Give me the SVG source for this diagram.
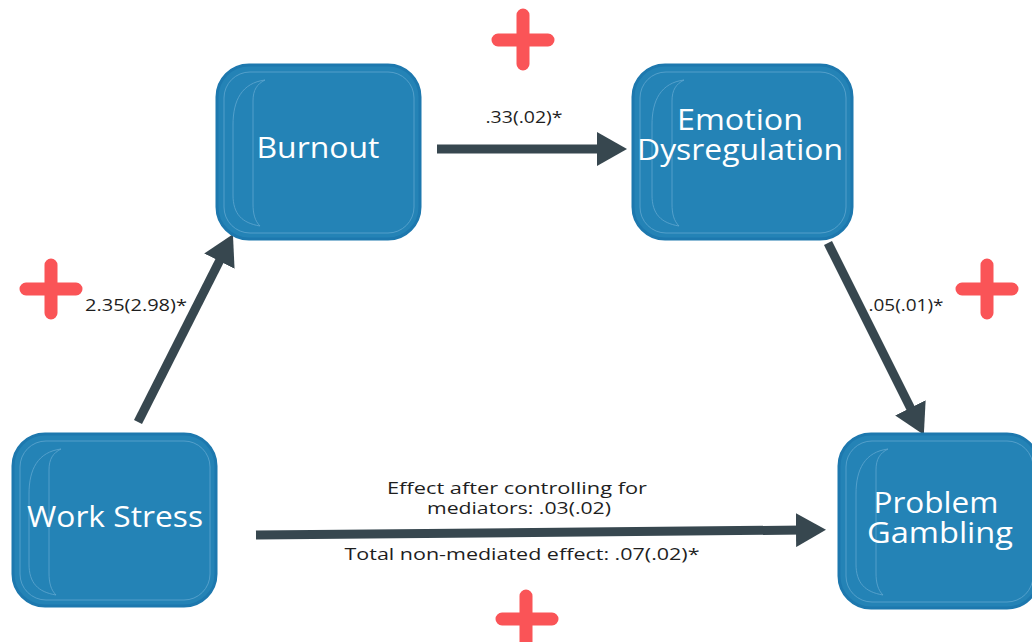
<svg xmlns="http://www.w3.org/2000/svg" width="1032" height="642" viewBox="0 0 1032 642">
<style>
.box{fill:#2483B6;stroke:#1D78AE;stroke-width:3}
.inner{fill:none;stroke:#5FA6D0;stroke-width:1;opacity:0.8}
.nl{font-family:"Open Sans","Liberation Sans",sans-serif;font-size:29px;fill:#FFFFFF;text-anchor:middle}
.el{font-family:"Open Sans","Liberation Sans",sans-serif;font-size:17px;fill:#1E1E1E;text-anchor:middle}
.conn{stroke:#37474F;stroke-width:9;fill:none;marker-end:url(#ah)}
.plus{stroke:#FA5457;stroke-width:13;stroke-linecap:round}
</style>
<defs>
<marker id="ah" markerUnits="userSpaceOnUse" markerWidth="30" markerHeight="34" viewBox="0 0 30 34" refX="8" refY="17" orient="auto">
<path d="M0,0 L30,17 L0,34 Z" fill="#37474F"/>
</marker>
</defs>
<rect width="1032" height="642" fill="#FFFFFF"/>
<g id="plus-signs">
<path class="plus" d="M498,40 H548 M523,15 V64"/>
<path class="plus" d="M26,289 H76 M51,265 V313"/>
<path class="plus" d="M962,289 H1012 M987,265 V313"/>
<path class="plus" d="M502,619 H552 M526,596 V648"/>
</g>
<g id="connectors">
<line class="conn" x1="138" y1="422" x2="223" y2="254"/>
<line class="conn" x1="437" y1="149" x2="605" y2="149"/>
<line class="conn" x1="828" y1="243" x2="914" y2="415"/>
<line class="conn" x1="256" y1="535" x2="804" y2="530"/>
<text class="el" x="524" y="123" textLength="77" lengthAdjust="spacingAndGlyphs">.33(.02)*</text>
<text class="el" x="136" y="311" textLength="102" lengthAdjust="spacingAndGlyphs">2.35(2.98)*</text>
<text class="el" x="906" y="311" textLength="75" lengthAdjust="spacingAndGlyphs">.05(.01)*</text>
<text class="el" x="517" y="494" textLength="260" lengthAdjust="spacingAndGlyphs">Effect after controlling for</text>
<text class="el" x="519" y="514" textLength="184" lengthAdjust="spacingAndGlyphs">mediators: .03(.02)</text>
<text class="el" x="522" y="560" textLength="355" lengthAdjust="spacingAndGlyphs">Total non-mediated effect: .07(.02)*</text>
</g>
<g id="node-burnout">
<rect class="box" x="217" y="65" width="203" height="174" rx="32"/>
<rect class="inner" x="224" y="72" width="190" height="161" rx="26"/>
<path class="inner" d="M265,80 C242,83 233,100 233,125 L233,195 C233,214 242,223 260,226 C255,221 253,214 253,204 L253,101 C253,90 257,84 265,80 Z"/>
<text class="nl" x="318" y="158" textLength="123" lengthAdjust="spacingAndGlyphs">Burnout</text>
</g>
<g id="node-emotion">
<rect class="box" x="633" y="65" width="219" height="174" rx="32"/>
<rect class="inner" x="640" y="72" width="206" height="161" rx="26"/>
<path class="inner" d="M684,80 C661,83 652,100 652,125 L652,195 C652,214 661,223 679,226 C674,221 672,214 672,204 L672,101 C672,90 676,84 684,80 Z"/>
<text class="nl" x="740" y="130" textLength="126" lengthAdjust="spacingAndGlyphs">Emotion</text>
<text class="nl" x="740" y="160" textLength="206" lengthAdjust="spacingAndGlyphs">Dysregulation</text>
</g>
<g id="node-workstress">
<rect class="box" x="13" y="434" width="203" height="172" rx="32"/>
<rect class="inner" x="20" y="441" width="190" height="159" rx="26"/>
<path class="inner" d="M61,449 C38,452 29,469 29,494 L29,564 C29,583 38,592 56,595 C51,590 49,583 49,573 L49,470 C49,459 53,453 61,449 Z"/>
<text class="nl" x="115" y="527" textLength="176" lengthAdjust="spacingAndGlyphs">Work Stress</text>
</g>
<g id="node-problem">
<rect class="box" x="839" y="434" width="200" height="174" rx="32"/>
<rect class="inner" x="846" y="441" width="187" height="161" rx="26"/>
<path class="inner" d="M888,449 C865,452 856,469 856,494 L856,564 C856,583 865,592 883,595 C878,590 876,583 876,573 L876,470 C876,459 880,453 888,449 Z"/>
<text class="nl" x="936" y="513" textLength="125" lengthAdjust="spacingAndGlyphs">Problem</text>
<text class="nl" x="940" y="543" textLength="146" lengthAdjust="spacingAndGlyphs">Gambling</text>
</g>
</svg>
